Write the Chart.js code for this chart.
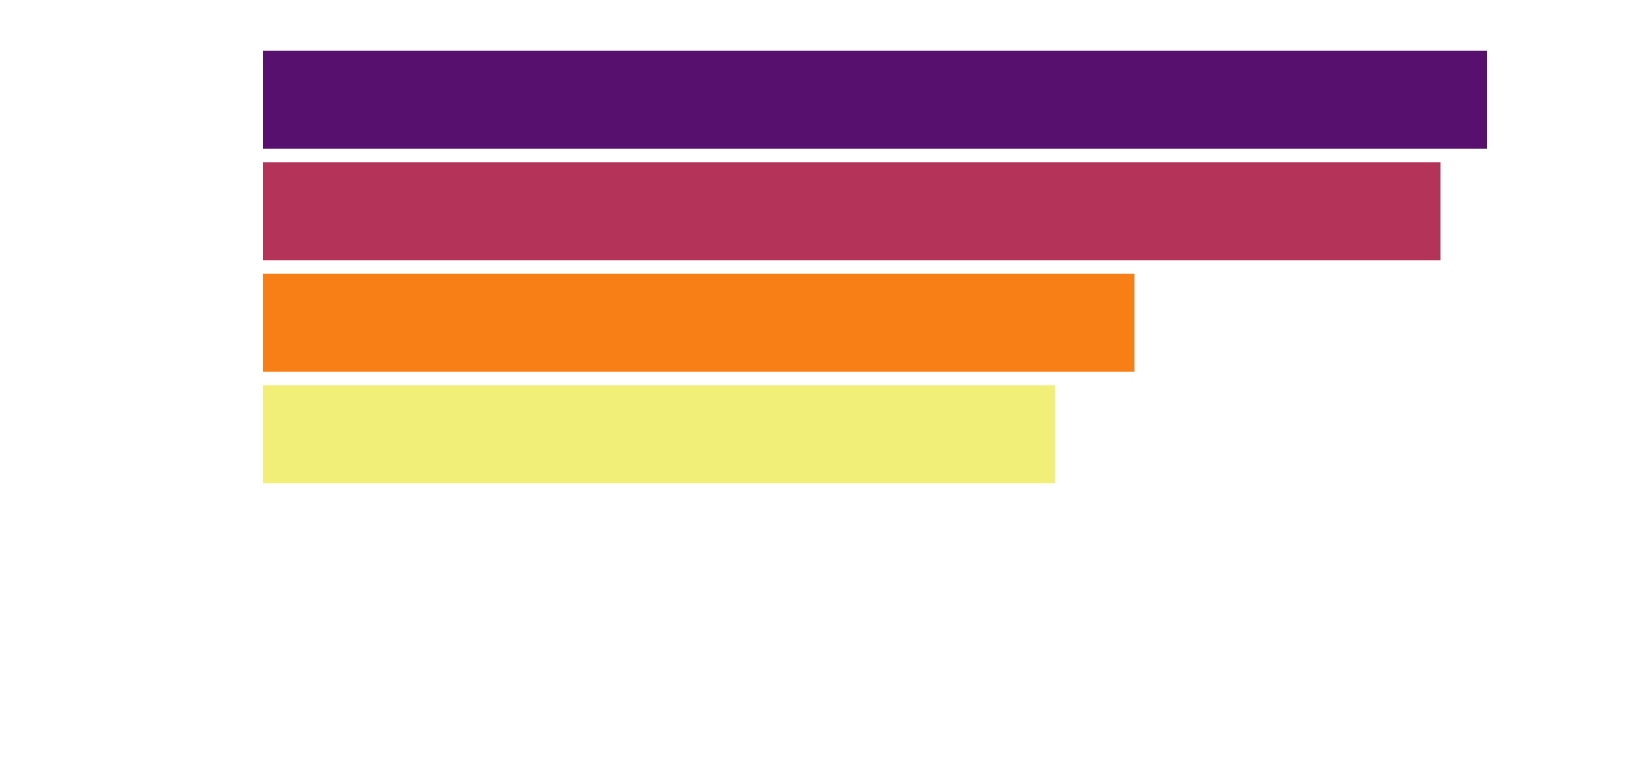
<!DOCTYPE html>
<html>
<head>
<meta charset="utf-8">
<script src="https://cdn.jsdelivr.net/npm/chart.js"></script>
<style>
  html, body { margin: 0; padding: 0; background: #fff; }
  #wrap { width: 1639px; height: 764px; }
</style>
</head>
<body>
<div id="wrap"><canvas id="chart"></canvas></div>
<script>
// values, longest bar = 100
const categories = ['A', 'B', 'C', 'D'];
const values = [100, 96.2, 71.2, 64.7];
const barColors = ['#57106e', '#b43358', '#f77f15', '#f1ef77'];

new Chart(document.getElementById('chart'), {
  type: 'bar',
  data: {
    labels: categories,
    datasets: [{
      data: values,
      backgroundColor: barColors,
      borderWidth: 0,
      categoryPercentage: 1,
      barPercentage: 0.88
    }]
  },
  options: {
    indexAxis: 'y',
    responsive: true,
    maintainAspectRatio: false,
    animation: false,
    layout: { padding: { left: 263, top: 44, right: 152, bottom: 274 } },
    plugins: { legend: { display: false }, tooltip: { enabled: false } },
    scales: {
      x: { display: false, min: 0, max: 100 },
      y: { display: false }
    }
  }
});
</script>
</body>
</html>
